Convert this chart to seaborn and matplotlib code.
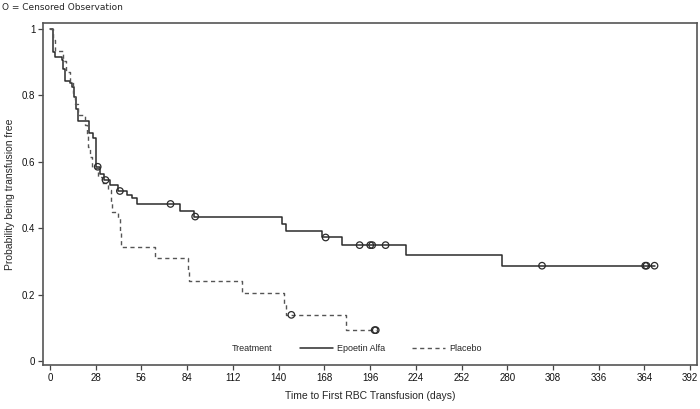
import numpy as np
import pandas as pd
import matplotlib
matplotlib.use("Agg")
import matplotlib.pyplot as plt
from matplotlib.lines import Line2D
import seaborn as sns

# Kaplan-Meier steps (day of event, survival after the event)
epo_days = [0, 1.6, 3, 7.5, 8.2, 9, 12.2, 13.6, 14.7, 15.7, 16.9, 24, 26.5, 28.2,
            30.6, 33, 36.7, 41.8, 46.9, 50, 53, 79.5, 88, 142, 144.7, 166.8,
            179, 217.7, 276.6, 370.2]
epo_surv = [1.0, 0.932, 0.917, 0.906, 0.878, 0.844, 0.836, 0.826, 0.794, 0.758,
            0.724, 0.688, 0.671, 0.585, 0.563, 0.545, 0.530, 0.512, 0.500, 0.490,
            0.473, 0.452, 0.435, 0.414, 0.392, 0.372, 0.349, 0.318, 0.287, 0.287]
epo_censored = [29.2, 34, 42.8, 73.8, 88.9, 168.8, 189.6, 196.1, 197.3, 205.5,
                301.3, 364.5, 365.3, 370.2]

pla_days = [0, 2, 3, 7.7, 10, 12, 14, 15.5, 17.2, 21.4, 22.4, 23.4, 24.2, 25.5,
            29.2, 31.6, 35.7, 37.3, 37.7, 41.8, 43, 43.6, 64.2, 84.6, 85.2,
            117.8, 143.1, 144.3, 181, 199.5]
pla_surv = [1.0, 0.967, 0.935, 0.903, 0.871, 0.839, 0.806, 0.774, 0.742, 0.710,
            0.677, 0.645, 0.613, 0.580, 0.555, 0.535, 0.515, 0.480, 0.450, 0.432,
            0.390, 0.344, 0.309, 0.275, 0.241, 0.206, 0.172, 0.139, 0.093, 0.093]
pla_censored = [147.8, 198.8, 199.5]

x_ticks = list(range(0, 393, 28))
y_ticks = [0, 0.2, 0.4, 0.6, 0.8, 1]
y_tick_labels = ["0", "0.2", "0.4", "0.6", "0.8", "1"]


def censor_points(days, surv, cens):
    # survival level at each censored time (step function, right-continuous)
    idx = np.searchsorted(days, cens, side="right") - 1
    return pd.DataFrame({"day": cens, "surv": np.asarray(surv)[idx]})


sns.set_style("white")
plt.rcParams["font.family"] = ["Liberation Sans", "DejaVu Sans"]

fig = plt.figure(figsize=(7, 4.09), dpi=100)
ax = fig.add_axes([0.0614, 0.1076, 0.9343, 0.8362])

line_col = "#2b2b2b"
dash_col = "#555555"

epo = pd.DataFrame({"day": epo_days, "surv": epo_surv})
pla = pd.DataFrame({"day": pla_days, "surv": pla_surv})

sns.lineplot(data=epo, x="day", y="surv", ax=ax, drawstyle="steps-post",
             color=line_col, linewidth=1.1, estimator=None, sort=False)
sns.lineplot(data=pla, x="day", y="surv", ax=ax, drawstyle="steps-post",
             color=dash_col, linewidth=1.0, linestyle=(0, (3, 2.5)),
             estimator=None, sort=False)

for days, surv, cens in [(epo_days, epo_surv, epo_censored),
                         (pla_days, pla_surv, pla_censored)]:
    sns.scatterplot(data=censor_points(days, surv, cens), x="day", y="surv",
                    ax=ax, marker="o", s=22, facecolor="none",
                    edgecolor=line_col, linewidth=0.9, zorder=5)

ax.set_xlim(-4.3, 396.2)
ax.set_ylim(-0.012, 1.018)
ax.set_xticks(x_ticks)
ax.set_yticks(y_ticks)
ax.set_yticklabels(y_tick_labels)
ax.tick_params(axis="both", direction="out", length=3.5, width=0.9,
               color="#444444", labelsize=7, labelcolor="#111111", pad=2,
               bottom=True, left=True)

for sp in ax.spines.values():
    sp.set_visible(True)
    sp.set_color("#555555")
    sp.set_linewidth(1.2)

ax.set_xlabel("Time to First RBC Transfusion (days)", fontsize=7.5, labelpad=6)
ax.set_ylabel("Probability being transfusion free", fontsize=7.5, labelpad=5)

handles = [Line2D([], [], color=line_col, linewidth=1.1),
           Line2D([], [], color=dash_col, linewidth=1.0, linestyle=(0, (3, 2.5)))]
ax.legend(handles, ["Epoetin Alfa", "Placebo"], ncol=2, frameon=False,
          loc="center", bbox_to_anchor=(0.532, 0.048), fontsize=6.5,
          handlelength=3.6, handletextpad=0.5, columnspacing=3.0)
ax.text(0.289, 0.048, "Treatment", transform=ax.transAxes, fontsize=6.5,
        va="center", ha="left")

fig.text(0.003, 0.982, "O = Censored Observation", fontsize=6.5,
         family=["DejaVu Sans"], va="center", ha="left")

fig.savefig("out.png", dpi=100)
